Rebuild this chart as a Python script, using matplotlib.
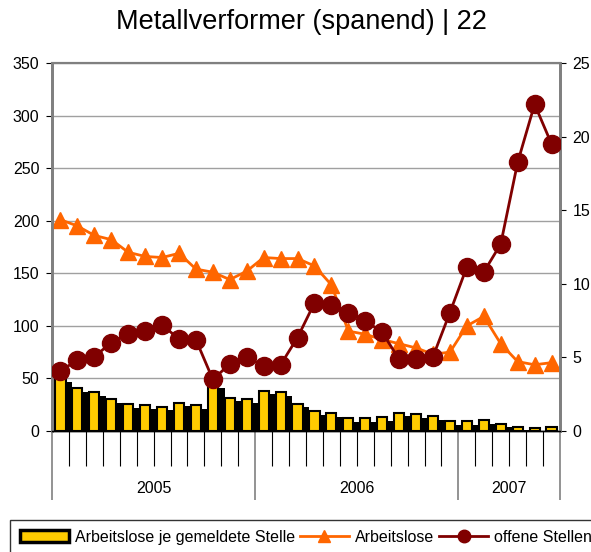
import numpy as np
import matplotlib
matplotlib.use("Agg")
import matplotlib.pyplot as plt
from matplotlib.patches import Patch
from matplotlib.lines import Line2D

plt.rcParams['font.family'] = ['Liberation Sans', 'DejaVu Sans']

# Monate Jan 2005 .. Jun 2007
years = ['2005', '2006', '2007']
months_per_year = [12, 12, 6]

# Arbeitslose je gemeldete Stelle (linke Achse)
ratio = [50, 40.5, 36.8, 30.5, 25.7, 24.4, 23, 27, 24.8, 44.5,
         31.7, 30.2, 38.3, 36.8, 26, 18.7, 16.8, 12, 12.4, 13.3,
         17.3, 16.3, 14.3, 9.6, 9.3, 10.3, 7, 4, 3.3, 3.8]
# Arbeitslose (linke Achse)
arbeitslose = [201, 195, 186, 182, 170, 166, 165, 169, 154, 151,
               144, 152, 165, 164, 164, 157, 139, 95, 92, 87,
               83, 79, 73, 75, 100, 109, 83, 66, 63, 65]
# offene Stellen (rechte Achse)
offene = [4.1, 4.8, 5.05, 6.0, 6.6, 6.8, 7.2, 6.25, 6.2, 3.5,
          4.55, 5.05, 4.4, 4.5, 6.35, 8.7, 8.55, 8.0, 7.5, 6.7,
          4.87, 4.87, 5.05, 8.05, 11.15, 10.8, 12.7, 18.25, 22.2, 19.5]

YELLOW = '#FFCC00'
ORANGE = '#FF6600'
DRED = '#800000'
GREY = '#808080'

x = np.arange(len(ratio))
ratio = np.array(ratio)

fig = plt.figure(figsize=(5.91, 5.52), dpi=100)
ax = fig.add_axes([52/591, 1-431/552, (560-52)/591, (431-63)/552])
ax2 = ax.twinx()

# Schatten (3D-Effekt) und Balken
ax.bar(x + 0.4, np.clip(ratio - 3.5, 0, None), width=0.6, color='black', zorder=2)
ax.bar(x, ratio, width=0.6, color=YELLOW, edgecolor='black', linewidth=1.5, zorder=3)

ax.plot(x, arbeitslose, '-^', color=ORANGE, lw=2, markersize=12, zorder=4)
ax2.plot(x, offene, '-o', color=DRED, lw=2, markersize=13, zorder=4)

ax.set_xlim(-0.5, len(ratio) - 0.5)
ax.set_ylim(0, 350)
ax.set_yticks(range(0, 351, 50))
ax2.set_ylim(0, 25)
ax2.set_yticks(range(0, 26, 5))

ax.yaxis.grid(True, color='#A0A0A0', lw=1)
ax.set_axisbelow(True)

for a in (ax, ax2):
    a.spines['left'].set_color(GREY)
    a.spines['left'].set_linewidth(2)
    a.spines['right'].set_color(GREY)
    a.spines['right'].set_linewidth(2)
    a.spines['top'].set_color(GREY)
    a.spines['top'].set_linewidth(1.5)
    a.spines['bottom'].set_color('black')
    a.spines['bottom'].set_linewidth(1)

ax.tick_params(axis='y', labelsize=11.5, length=4, pad=5, color='black')
ax2.tick_params(axis='y', labelsize=11.5, length=4, pad=5, color='black')

# x-Achse: Monatsstriche und Jahresgrenzen
bounds = np.cumsum([0] + months_per_year) - 0.5
ax.set_xticks(bounds)
ax.set_xticklabels([])
ax.set_xticks(np.arange(0.5, len(ratio) - 1, 1), minor=True)
ax.tick_params(axis='x', which='major', length=50, width=1.2, color=GREY, direction='out')
ax.tick_params(axis='x', which='minor', length=25, width=0.8, color='black', direction='out')

centers = (bounds[:-1] + bounds[1:]) / 2
for c, yr in zip(centers, years):
    ax.text(c, -55, yr, ha='center', va='center', fontsize=11.5, clip_on=False)

fig.text(301/591, 1-22/552, 'Metallverformer (spanend) | 22', fontsize=19.5,
         ha='center', va='center')

handles = [Patch(facecolor=YELLOW, edgecolor='black', linewidth=2.5),
           Line2D([], [], color=ORANGE, lw=2, marker='^', markersize=9),
           Line2D([], [], color=DRED, lw=2, marker='o', markersize=9)]
labels = ['Arbeitslose je gemeldete Stelle', 'Arbeitslose', 'offene Stellen']
leg = fig.legend(handles, labels, loc='upper left', bbox_to_anchor=(10/591, 1-520/552),
                 ncol=3, fontsize=11.5, frameon=True, fancybox=False, edgecolor='black',
                 handlelength=3.1, handletextpad=0.35, columnspacing=0.3,
                 borderaxespad=0, borderpad=0.6)
leg.get_frame().set_linewidth(1)

fig.savefig('out.png', dpi=100)
